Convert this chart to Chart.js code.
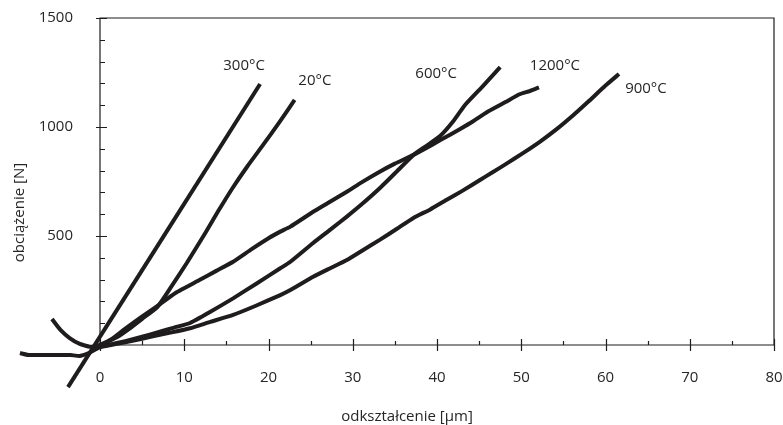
<!DOCTYPE html>
<html>
<head>
<meta charset="utf-8">
<script src="https://cdn.jsdelivr.net/npm/chart.js@4.4.1/dist/chart.umd.min.js"></script>
<style>
  html, body { margin: 0; padding: 0; background: #fff; }
  canvas { display: block; }
</style>
</head>
<body>
<canvas id="chart" width="783" height="425"></canvas>
<script>
const seriesNames = ['300°C', '20°C', '600°C', '1200°C', '900°C'];

const x300 = [-3.8, 19.0];
const y300 = [-193, 1197];

const x20 = [-0.6, 0.5, 2, 3.5, 5, 6.8, 8.5, 10.3, 12.5, 14, 15.7, 17.5, 19.4, 21.3, 23.1];
const y20 = [-12, 8, 35, 75, 120, 174, 270, 376, 514, 612, 718, 820, 920, 1022, 1124];

const x600 = [-0.6, 1, 3, 5, 7, 8.8, 10.7, 13, 15.8, 18.5, 21.4, 22.6, 25.3, 27.3, 29.3, 31.2, 33.2, 35.2, 37.2, 38.8, 40.4, 42, 43.3, 45.5, 47.5];
const y600 = [-12, 0, 18, 38, 60, 80, 101, 150, 214, 280, 352, 382, 468, 528, 589, 650, 719, 795, 872, 915, 960, 1030, 1100, 1190, 1275];

const x1200 = [-5.7, -4.7, -3.6, -2.4, -1.2, 0, 1.5, 3, 4.8, 6.7, 9, 11.8, 13.8, 15.8, 18, 20, 21.4, 22.6, 25.3, 27, 29.3, 31, 33.2, 35, 37.2, 38.8, 40.4, 42.7, 44.2, 46, 48.2, 49.8, 51, 52.1];
const y1200 = [119, 69, 32, 5, -8, 0, 30, 75, 125, 176, 240, 298, 340, 382, 440, 490, 520, 543, 611, 650, 703, 745, 795, 832, 872, 905, 940, 990, 1024, 1070, 1116, 1150, 1165, 1182];

const x900 = [-9.5, -8.5, -7, -5, -3.5, -2.4, -1.2, 0, 2, 4, 6, 8.5, 10.7, 13, 15.8, 18.5, 21.4, 22.6, 25.3, 27.2, 29.3, 31.2, 33.2, 35.2, 37.2, 39.2, 41.1, 43, 45.1, 46.5, 48.3, 50.2, 52.2, 54.2, 56.2, 58, 60, 61.6];
const y900 = [-37, -46, -46, -46, -46, -50, -35, -10, 5, 20, 38, 58, 77, 105, 138, 180, 229, 252, 313, 350, 390, 435, 482, 532, 583, 622, 665, 707, 757, 790, 833, 880, 932, 990, 1055, 1118, 1190, 1243];

// gdzie stoją podpisy krzywych (w jednostkach osi)
const labelX = [17.1, 25.5, 39.9, 54.0, 64.8];
const labelY = [1280, 1211, 1243, 1280, 1174];

const xMin = 0, xMax = 80, xStep = 10, xMinor = 5;
const yMin = 0, yMax = 1500, yStep = 500, yMinor = 100;

const xTitle = 'odkształcenie [µm]';
const yTitle = 'obciążenie [N]';

const ink = '#1f1c1d';
const textInk = '#262626';
const fontFamily = '"Open Sans", "Noto Sans", sans-serif';

function toPoints(xs, ys) {
  return xs.map((x, i) => ({ x, y: ys[i] }));
}

const seriesX = [x300, x20, x600, x1200, x900];
const seriesY = [y300, y20, y600, y1200, y900];

const datasets = seriesNames.map((name, i) => ({
  label: name,
  data: toPoints(seriesX[i], seriesY[i]),
  borderColor: ink,
  borderWidth: 4,
  pointRadius: 0,
  pointHoverRadius: 0,
  tension: 0.15,
  fill: false,
  clip: false
}));

// bez dodatkowego marginesu od etykiet osi
function noScalePad(s) {
  s.paddingLeft = 0; s.paddingRight = 0;
  s.paddingTop = 0; s.paddingBottom = 0;
}

// ramka, ticki (duże przecinają oś, małe do środka), podpisy
const frame = {
  id: 'frame',
  beforeDatasetsDraw(chart) {
    const { ctx, chartArea: a, scales: { x, y } } = chart;
    ctx.save();
    ctx.strokeStyle = ink;
    ctx.lineWidth = 1.2;
    ctx.beginPath();
    ctx.rect(a.left, a.top, a.right - a.left, a.bottom - a.top);
    for (let v = yMin; v <= yMax; v += yMinor) {
      const py = Math.round(y.getPixelForValue(v)) + 0.5;
      const major = v % yStep === 0;
      ctx.moveTo(a.left - (major ? 4 : 0), py);
      ctx.lineTo(a.left + (major ? 7 : 5), py);
    }
    for (let v = xMin; v <= xMax; v += xMinor) {
      const px = Math.round(x.getPixelForValue(v)) + 0.5;
      const major = v % xStep === 0;
      ctx.moveTo(px, a.bottom + (major ? 6 : 0));
      ctx.lineTo(px, a.bottom - (major ? 6 : 4));
    }
    ctx.stroke();
    ctx.restore();
  },
  afterDraw(chart) {
    const { ctx, chartArea: a, scales: { x, y } } = chart;
    ctx.save();
    ctx.fillStyle = textInk;
    ctx.font = '15px ' + fontFamily;
    ctx.textAlign = 'center';
    ctx.textBaseline = 'middle';
    seriesNames.forEach((name, i) => {
      ctx.fillText(name, x.getPixelForValue(labelX[i]), y.getPixelForValue(labelY[i]));
    });
    // tytuły osi
    ctx.fillText(xTitle, a.left + 307, a.bottom + 72);
    ctx.translate(a.left - 80, (a.top + a.bottom) / 2 + 31);
    ctx.rotate(-Math.PI / 2);
    ctx.fillText(yTitle, 0, 0);
    ctx.restore();
  }
};

new Chart(document.getElementById('chart'), {
  type: 'line',
  data: { datasets },
  options: {
    responsive: false,
    animation: false,
    layout: { padding: { left: 0, right: 9, top: 18, bottom: 0 } },
    plugins: {
      legend: { display: false },
      tooltip: { enabled: false }
    },
    scales: {
      x: {
        type: 'linear',
        // zakres ustawiony tutaj, a nie przez min/max, żeby Chart.js
        // nie obcinał punktów leżących na lewo od osi
        afterDataLimits: s => { s.min = xMin; s.max = xMax; },
        afterFit: s => { s.height = 80; noScalePad(s); },
        grid: { display: false, drawTicks: false },
        border: { display: false },
        ticks: {
          stepSize: xStep,
          padding: 24,
          color: textInk,
          font: { family: fontFamily, size: 15 },
          maxRotation: 0
        }
      },
      y: {
        type: 'linear',
        min: yMin,
        max: yMax,
        afterFit: s => { s.width = 100; noScalePad(s); },
        grid: { display: false, drawTicks: false },
        border: { display: false },
        ticks: {
          stepSize: yStep,
          padding: 27,
          color: textInk,
          font: { family: fontFamily, size: 15 },
          callback: v => (v === 0 ? '' : v)
        }
      }
    }
  },
  plugins: [frame]
});
</script>
</body>
</html>
